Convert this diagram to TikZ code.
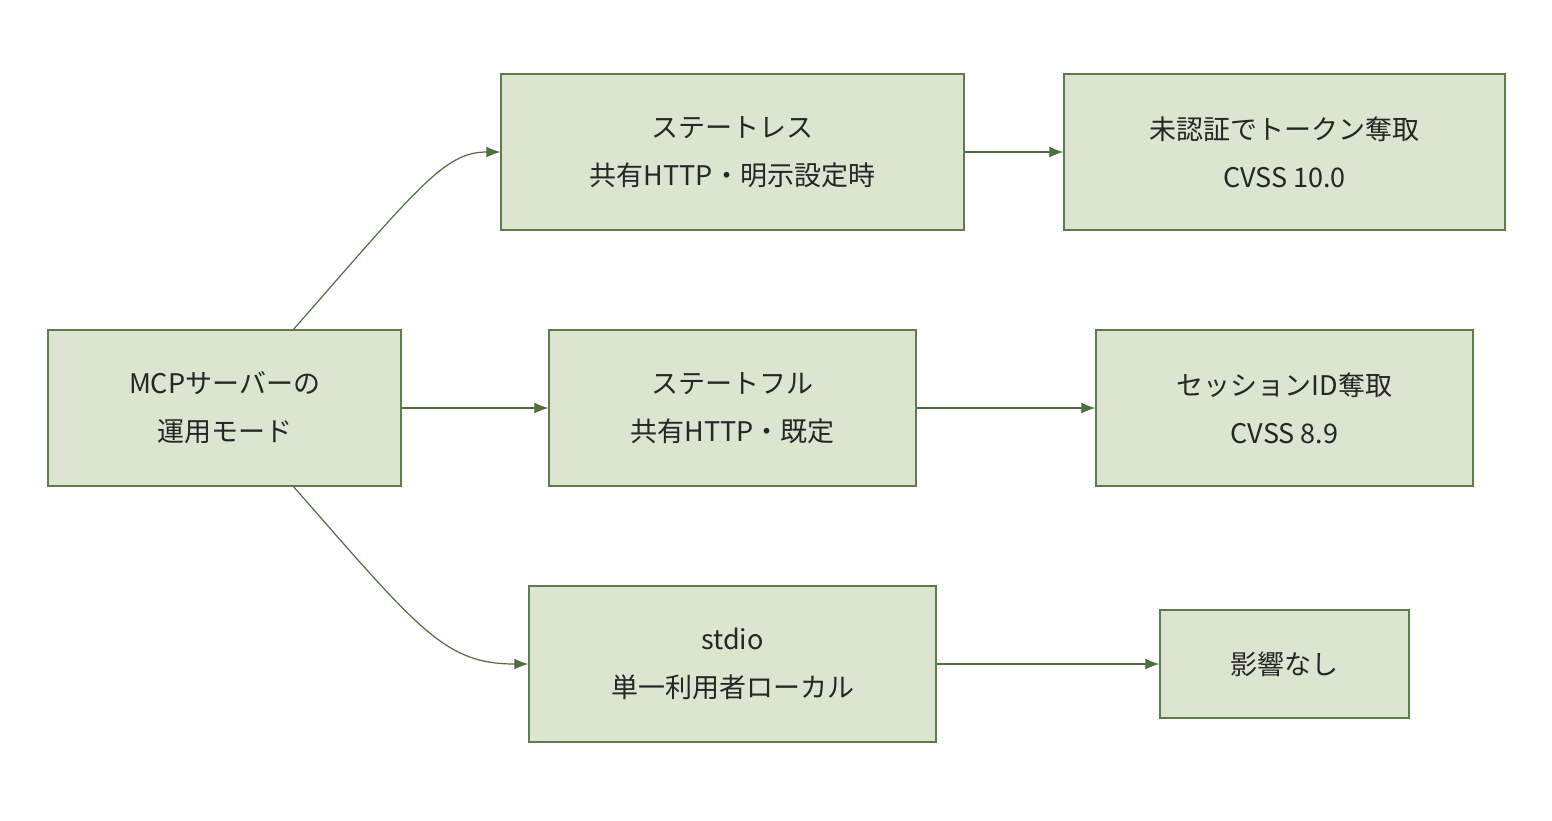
\documentclass[tikz,border=0pt]{standalone}
\usepackage{fontspec}
\setmainfont{Noto Sans CJK JP}
\usetikzlibrary{arrows.meta}
\definecolor{boxfill}{HTML}{DCE5CF}
\definecolor{boxline}{HTML}{5E7D4C}
\definecolor{arr}{HTML}{4F6F3F}
\begin{document}
\begin{tikzpicture}[x=1pt,y=-1pt,
  box/.style={draw=boxline,fill=boxfill,line width=1.3pt,align=center,font=\fontsize{27}{48}\selectfont,inner sep=0pt,text=black!85},
  conn/.style={draw=arr,line width=1.2pt,-{Latex[length=14pt,width=11pt]}}]
\useasboundingbox (0,0) rectangle (1552,820);
\node[box,minimum width=353pt,minimum height=156pt] (a) at (224.5,408) {MCPサーバーの\\運用モード};
\node[box,minimum width=463pt,minimum height=156pt] (b1) at (732.5,152) {ステートレス\\共有HTTP・明示設定時};
\node[box,minimum width=441pt,minimum height=156pt] (c1) at (1284.5,152) {未認証でトークン奪取\\CVSS 10.0};
\node[box,minimum width=367pt,minimum height=156pt] (b2) at (732.5,408) {ステートフル\\共有HTTP・既定};
\node[box,minimum width=377pt,minimum height=156pt] (c2) at (1284.5,408) {セッションID奪取\\CVSS 8.9};
\node[box,minimum width=407pt,minimum height=156pt] (b3) at (732.5,664) {stdio\\単一利用者ローカル};
\node[box,minimum width=249pt,minimum height=108pt] (c3) at (1284.5,664) {影響なし};
\coordinate (at) at (293,330);
\coordinate (ab) at (293,486);
\draw[conn] (at) .. controls (420,185) and (445,152) .. (b1.west);
\draw[conn] (ab) .. controls (420,631) and (445,664) .. (b3.west);
\draw[conn] (a) -- (b2);
\draw[conn] (b1) -- (c1);
\draw[conn] (b2) -- (c2);
\draw[conn] (b3) -- (c3);
\end{tikzpicture}
\end{document}
